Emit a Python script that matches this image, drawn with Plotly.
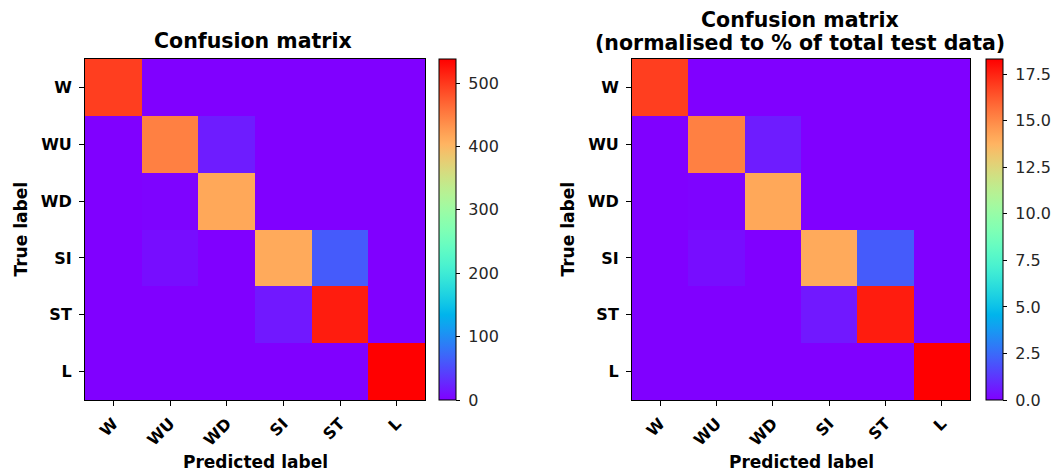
import numpy as np
import plotly.graph_objects as go

# ---- data ----
classes = ["W", "WU", "WD", "SI", "ST", "L"]
row_W  = [496,   0,   0,   0,   0,   0]
row_WU = [  0, 448,  19,   0,   0,   0]
row_WD = [  0,   2, 415,   0,   0,   0]
row_SI = [  0,   9,   0, 413,  62,   0]
row_ST = [  0,   0,   0,  16, 519,   0]
row_L  = [  0,   0,   0,   0,   0, 538]

count_ticks = [0, 100, 200, 300, 400, 500]
percent_ticks = [0, 2.5, 5, 7.5, 10, 12.5, 15, 17.5]

counts = np.array([row_W, row_WU, row_WD, row_SI, row_ST, row_L], dtype=float)
percent = counts / counts.sum() * 100.0

# matplotlib "rainbow" colormap
def rainbow(x):
    r = min(max(abs(2 * x - 0.5), 0), 1)
    g = min(max(np.sin(np.pi * x), 0), 1)
    b = min(max(np.cos(np.pi * x / 2), 0), 1)
    return f"rgb({round(r*255)},{round(g*255)},{round(b*255)})"

stops = np.linspace(0, 1, 41)
cscale = [[float(s), rainbow(float(s))] for s in stops]

W, H = 1054, 472
def px_x(p): return p / W
def px_y(p): return 1 - p / H

top, bot = 59, 400
L_x0, L_x1 = 85, 425
R_x0, R_x1 = 632, 970

fig = go.Figure()

cb_common = dict(thickness=17, thicknessmode="pixels",
                 len=(bot - top) / H, lenmode="fraction",
                 y=(px_y(top) + px_y(bot)) / 2, yanchor="middle",
                 outlinewidth=1, outlinecolor="black",
                 ticks="outside", ticklen=4, tickwidth=1, tickcolor="black",
                 tickfont=dict(family="DejaVu Sans", size=16, color="#262626"),
                 xpad=0, ypad=0)

fig.add_trace(go.Heatmap(z=counts, x=classes, y=classes, colorscale=cscale,
                         zmin=0, zmax=counts.max(), xaxis="x", yaxis="y",
                         colorbar=dict(x=px_x(439), xanchor="left",
                                       tickvals=count_ticks,
                                       ticktext=[" " + str(t) for t in count_ticks],
                                       **cb_common)))
fig.add_trace(go.Heatmap(z=percent, x=classes, y=classes, colorscale=cscale,
                         zmin=0, zmax=percent.max(), xaxis="x2", yaxis="y2",
                         colorbar=dict(x=px_x(986), xanchor="left",
                                       tickvals=percent_ticks,
                                       ticktext=[" " + f"{t:.1f}" for t in percent_ticks],
                                       **cb_common)))

tickfont = dict(family="DejaVu Sans", size=16, color="black", weight="bold")
ax_common = dict(showline=True, mirror=True, linecolor="black", linewidth=1,
                 ticks="outside", ticklen=5, tickwidth=1, tickcolor="black",
                 tickfont=tickfont, showgrid=False, zeroline=False)

fig.update_layout(
    width=W, height=H, margin=dict(l=0, r=0, t=0, b=0),
    paper_bgcolor="white", plot_bgcolor="white", showlegend=False,
    xaxis=dict(domain=[px_x(L_x0), px_x(L_x1)], anchor="y", tickangle=-45,
               ticklabelstandoff=2, **ax_common),
    yaxis=dict(domain=[px_y(bot), px_y(top)], anchor="x", autorange="reversed",
               ticklabelstandoff=4, **ax_common),
    xaxis2=dict(domain=[px_x(R_x0), px_x(R_x1)], anchor="y2", tickangle=-45,
                ticklabelstandoff=2, **ax_common),
    yaxis2=dict(domain=[px_y(bot), px_y(top)], anchor="x2", autorange="reversed",
                ticklabelstandoff=4, **ax_common),
)

title_font = dict(family="DejaVu Sans", size=20.5, color="black", weight="bold")
label_font = dict(family="DejaVu Sans", size=17, color="black", weight="bold")

anns = [
    dict(text="Confusion matrix", x=px_x(253), y=px_y(41), font=title_font),
    dict(text="Confusion matrix", x=px_x(800), y=px_y(20), font=title_font),
    dict(text="(normalised to % of total test data)", x=px_x(800), y=px_y(43), font=title_font),
    dict(text="Predicted label", x=px_x((L_x0 + L_x1) / 2), y=px_y(462), font=label_font),
    dict(text="Predicted label", x=px_x((R_x0 + R_x1) / 2), y=px_y(462), font=label_font),
    dict(text="True label", x=px_x(20), y=px_y((top + bot) / 2), textangle=-90, font=label_font),
    dict(text="True label", x=px_x(567), y=px_y((top + bot) / 2), textangle=-90, font=label_font),
]
for a in anns:
    a.update(xref="paper", yref="paper", xanchor="center", yanchor="middle", showarrow=False)
fig.update_layout(annotations=anns)

fig.write_html("out.html")
